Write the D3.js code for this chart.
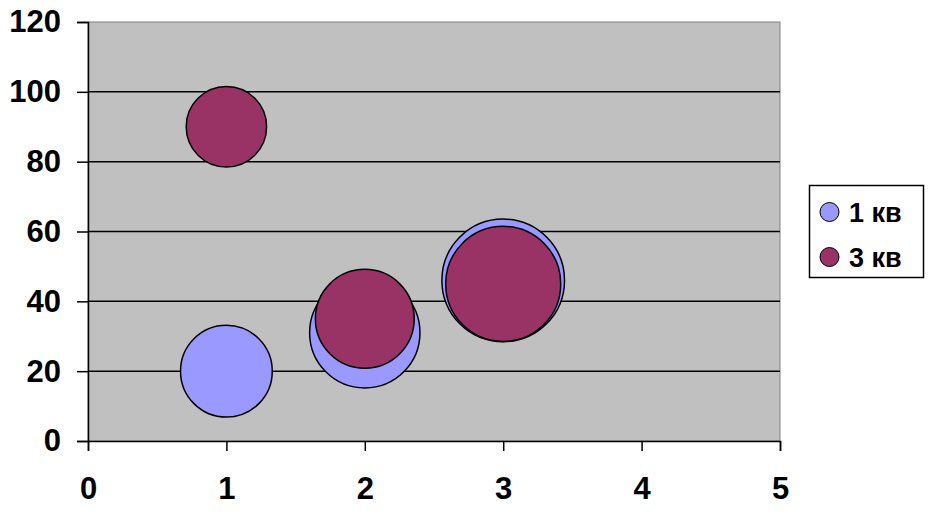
<!DOCTYPE html>
<html><head><meta charset="utf-8">
<script src="https://cdn.jsdelivr.net/npm/d3@7"></script>
<style>body{margin:0;background:#fff}svg{display:block}text{font-family:"Liberation Sans",Arial,sans-serif;font-weight:bold}</style>
</head><body><svg id="c" width="932" height="522"></svg>
<script>
const seriesNames = ["1 кв", "3 кв"];
const seriesColors = ["#9999ff", "#993366"];
const xValues = [1, 2, 3];
const s1Y = [20, 31, 46];
const s1Size = [56, 81, 100];
const s2Y = [90, 35, 45];
const s2Size = [43, 65, 88];
const xTicks = [0, 1, 2, 3, 4, 5];
const yTicks = [0, 20, 40, 60, 80, 100, 120];

const svg = d3.select("#c");
const m = {l: 88, r: 780, t: 22, b: 441};
const x = d3.scaleLinear().domain([0, 5]).range([m.l, m.r]);
const y = d3.scaleLinear().domain([0, 120]).range([m.b, m.t]);
const rs = d3.scaleSqrt().domain([0, 100]).range([0, 61.3]);

svg.append("rect").attr("x", m.l).attr("y", m.t).attr("width", m.r - m.l).attr("height", m.b - m.t)
  .attr("fill", "#c0c0c0").attr("stroke", "#808080").attr("stroke-width", 1);

svg.append("g").selectAll("line").data(yTicks.filter(d => d > 0 && d < 120)).join("line")
  .attr("x1", m.l).attr("x2", m.r).attr("y1", d => y(d)).attr("y2", d => y(d))
  .attr("stroke", "#000").attr("stroke-width", 1.5);

const yAxis = svg.append("g").attr("transform", `translate(${m.l},0)`)
  .call(d3.axisLeft(y).tickValues(yTicks).tickFormat(d3.format("d")).tickSize(11).tickPadding(16));
const xAxis = svg.append("g").attr("transform", `translate(0,${m.b})`)
  .call(d3.axisBottom(x).tickValues(xTicks).tickFormat(d3.format("d")).tickSize(10).tickPadding(26));
[yAxis, xAxis].forEach(a => {
  a.selectAll(".domain").attr("stroke", "#000").attr("stroke-width", 1.5);
  a.selectAll(".tick line").attr("stroke", "#000").attr("stroke-width", 1.5);
  a.selectAll("text").attr("font-size", 31).attr("font-weight", "bold").attr("fill", "#000")
    .attr("font-family", "Liberation Sans, Arial, sans-serif");
});

const series = [
  {name: seriesNames[0], color: seriesColors[0], pts: xValues.map((v, i) => ({x: v, y: s1Y[i], s: s1Size[i]}))},
  {name: seriesNames[1], color: seriesColors[1], pts: xValues.map((v, i) => ({x: v, y: s2Y[i], s: s2Size[i]}))}
];
series.forEach(sr => {
  svg.append("g").selectAll("circle").data(sr.pts).join("circle")
    .attr("cx", d => x(d.x)).attr("cy", d => y(d.y)).attr("r", d => rs(d.s))
    .attr("fill", sr.color).attr("stroke", "#000").attr("stroke-width", 1.5);
});

const lg = svg.append("g");
lg.append("rect").attr("x", 809.5).attr("y", 185.5).attr("width", 114).attr("height", 92)
  .attr("fill", "#fff").attr("stroke", "#000").attr("stroke-width", 1.5);
series.forEach((sr, i) => {
  const cy = 212 + i * 45;
  lg.append("circle").attr("cx", 829.5).attr("cy", cy).attr("r", 9.5)
    .attr("fill", sr.color).attr("stroke", "#000").attr("stroke-width", 1);
  lg.append("text").attr("x", 849).attr("y", cy + 9.5).attr("font-size", 27).attr("fill", "#000").text(sr.name);
});
</script></body></html>
